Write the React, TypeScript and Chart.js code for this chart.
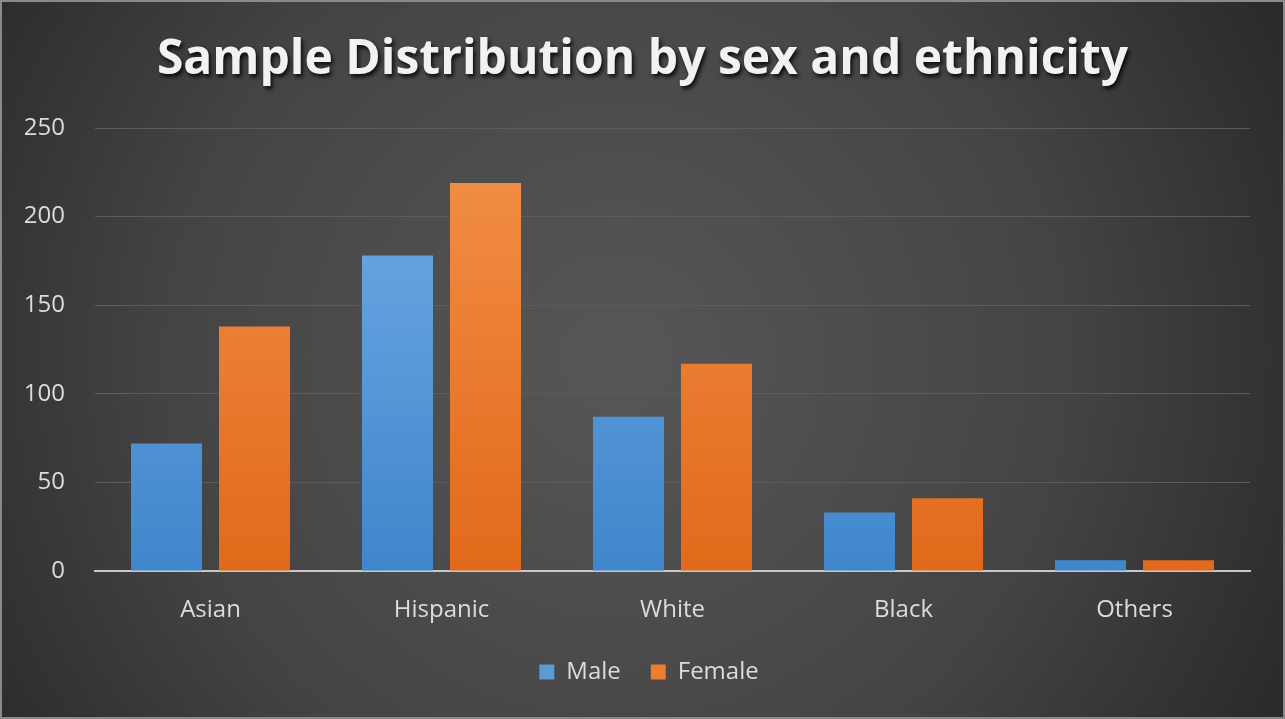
import React, { useEffect, useRef } from "react";
import { Chart, registerables } from "chart.js";

Chart.register(...registerables);

const TITLE = "Sample Distribution by sex and ethnicity";
const categories = ["Asian", "Hispanic", "White", "Black", "Others"];
const maleValues = [72, 178, 87, 33, 6];
const femaleValues = [138, 219, 117, 41, 6];
const seriesNames = ["Male", "Female"];
const yTicks = [0, 50, 100, 150, 200, 250];

const FONT = "'Open Sans', 'DejaVu Sans', sans-serif";

const bgPlugin = {
  id: "bgPlugin",
  afterLayout(chart: any) {
    if (chart.legend) {
      chart.legend.left += 24;
      chart.legend.right += 24;
    }
  },
  beforeDraw(chart: any) {
    const { ctx, width, height } = chart;
    ctx.save();
    const g = ctx.createRadialGradient(width * 0.48, height * 0.5, 20, width * 0.48, height * 0.5, width * 0.62);
    g.addColorStop(0, "#565656");
    g.addColorStop(0.55, "#444444");
    g.addColorStop(1, "#262626");
    ctx.fillStyle = g;
    ctx.fillRect(0, 0, width, height);
    ctx.strokeStyle = "#8a8a8a";
    ctx.lineWidth = 2;
    ctx.strokeRect(1, 1, width - 2, height - 2);
    // title
    ctx.font = `bold 48px ${FONT}`;
    ctx.textAlign = "center";
    ctx.textBaseline = "middle";
    ctx.shadowColor = "rgba(0,0,0,0.85)";
    ctx.shadowOffsetX = 2;
    ctx.shadowOffsetY = 3;
    ctx.shadowBlur = 4;
    ctx.fillStyle = "#f2f2f2";
    ctx.fillText(TITLE, width / 2, 60);
    ctx.restore();
  },
};

function grad(ctx: any, area: any, top: string, bottom: string) {
  const g = ctx.createLinearGradient(0, area.top, 0, area.bottom);
  g.addColorStop(0, top);
  g.addColorStop(1, bottom);
  return g;
}

export default function App() {
  const ref = useRef<HTMLCanvasElement | null>(null);
  useEffect(() => {
    document.body.style.margin = "0";
    const canvas = ref.current!;
    const chart = new Chart(canvas, {
      type: "bar",
      data: {
        labels: categories,
        datasets: [
          {
            label: seriesNames[0],
            data: maleValues,
            backgroundColor: (c: any) => {
              const a = c.chart.chartArea;
              if (!a) return "#5b9bd5";
              return grad(c.chart.ctx, a, "#74aee6", "#3f86cc");
            },
          },
          {
            label: seriesNames[1],
            data: femaleValues,
            backgroundColor: (c: any) => {
              const a = c.chart.chartArea;
              if (!a) return "#ed7d31";
              return grad(c.chart.ctx, a, "#f39149", "#e2691a");
            },
          },
        ],
      },
      options: {
        responsive: false,
        animation: false,
        layout: { padding: { top: 128, right: 35, left: 0, bottom: 25 } },
        datasets: { bar: { categoryPercentage: 0.762, barPercentage: 0.807 } } as any,
        plugins: {
          title: { display: false },
          tooltip: { enabled: false },
          legend: {
            position: "bottom",
            labels: {
              color: "#dcdcdc",
              font: { family: FONT, size: 24 },
              boxWidth: 15,
              boxHeight: 15,
              padding: 30,
              generateLabels: () =>
                seriesNames.map((n, i) => ({
                  text: n,
                  fillStyle: i === 0 ? "#5b9bd5" : "#ed7d31",
                  strokeStyle: "transparent",
                  lineWidth: 0,
                  fontColor: "#dcdcdc",
                  datasetIndex: i,
                })),
            },
          },
        },
        scales: {
          x: {
            grid: { display: false, drawTicks: false },
            border: { display: true, color: "#c8c8c8", width: 2 },
            ticks: { color: "#dcdcdc", font: { family: FONT, size: 24 }, padding: 25 },
            afterFit: (s: any) => {
              s.height = 59;
            },
          },
          y: {
            min: 0,
            max: 250,
            afterBuildTicks: (s: any) => {
              s.ticks = yTicks.map((v) => ({ value: v }));
            },
            grid: { color: "#5c5c5c", lineWidth: 1, drawTicks: false },
            border: { display: false },
            ticks: { color: "#dcdcdc", font: { family: FONT, size: 24 }, padding: 30 },
            afterFit: (s: any) => {
              s.width = 95;
            },
          },
        },
      } as any,
      plugins: [bgPlugin],
    });
    return () => chart.destroy();
  }, []);
  return <canvas ref={ref} width={1285} height={719} style={{ display: "block" }} />;
}
